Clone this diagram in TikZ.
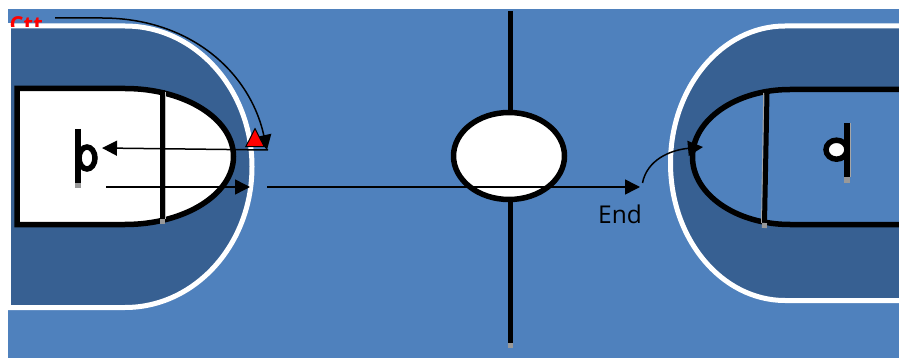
\documentclass[tikz,border=0pt]{standalone}
\usepackage{fontspec}
\setsansfont{Open Sans}
\usetikzlibrary{arrows.meta,shapes.geometric}
\definecolor{court}{HTML}{4F81BD}
\definecolor{zone}{HTML}{376092}
\begin{document}
\begin{tikzpicture}[x=1pt,y=1pt,>={Triangle[length=15pt,width=15pt]},
  zone/.style={draw=white,line width=5pt,fill=zone},
  key/.style={draw=black,line width=5.5pt},
  bar/.style={draw=black,line width=5pt},
  barend/.style={draw=gray!80,line width=5pt},
  ring/.style={draw=black,ellipse,fill=white,inner sep=0pt,line width=5.5pt},
  mv/.style={draw=black,line width=1.5pt,->},
  curv/.style={draw=black,line width=1.5pt,->}]
  \useasboundingbox (0,0) rectangle (899,-358);
  \fill[court] (7.5,-9) rectangle (899,-358);
  % left end
  \path[zone] (7.5,-26)--(125,-26) arc[start angle=90,end angle=-90,x radius=127,y radius=140.75]--(7.5,-307.5);
  \fill[white] (0,-23.5) rectangle (11,-310);
  \begin{scope}
    \clip (0,-15) rectangle (60,-26.7);
    \node[anchor=north west,inner sep=0pt,text=red,font=\sffamily\bfseries\fontsize{22}{22}\selectfont] (ctt) at (9.5,-16.5) {Ctt};
  \end{scope}
  \path[key,fill=white] (17,-88.5)--(125,-88.5) arc[start angle=90,end angle=-90,x radius=108.5,y radius=68]--(17,-224.5)--cycle;
  \draw[draw=gray!50,line width=1pt] (165,-92)--(165,-219);
  \draw[bar] (162.5,-90)--(162.5,-219);
  \draw[barend] (162.5,-219)--(162.5,-223.5);
  \node[ring,minimum width=16pt,minimum height=22pt] (pl) at (87,-158) {};
  \draw[bar,line width=5.8pt] (78,-129)--(78,-183);
  \draw[barend,line width=5.8pt] (78,-183)--(78,-188);
  % right end
  \path[zone] (899,-26)--(785,-26) arc[start angle=90,end angle=270,x radius=114.5,y radius=137.25]--(899,-300.5);
  \path[key,fill=court] (899,-89.5)--(790,-89.5) arc[start angle=90,end angle=270,x radius=97.5,y radius=67.5]--(899,-224.5);
  \draw[draw=gray!70,line width=1.2pt] (763.8,-93)--(761.6,-223);
  \draw[bar] (767,-93)--(764.5,-223);
  \draw[barend] (764.5,-223)--(764.4,-228);
  \node[ring,minimum width=21pt,minimum height=19pt] (pr) at (836.5,-149.7) {};
  \draw[draw=gray!70,line width=1.2pt] (850,-123)--(850,-177);
  \draw[bar,line width=6pt] (846.7,-123)--(846.7,-177);
  \draw[barend,line width=6.5pt] (847,-177)--(847,-183);
  % centre
  \draw[bar] (510,-11)--(510,-343);
  \draw[barend] (510,-343)--(510,-348);
  \node[ring,minimum width=111pt,minimum height=87pt] (c) at (509,-156) {};
  % moves
  \coordinate (a1) at (268,-150);
  \coordinate (a2) at (102,-148);
  \coordinate (b1) at (106,-187);
  \coordinate (b2) at (250,-187);
  \coordinate (m1) at (267,-187);
  \coordinate (m2) at (640,-187);
  \coordinate (s1) at (55,-18);
  \coordinate (s2) at (102,-18);
  \coordinate (s3) at (267,-150);
  \coordinate (e1) at (642.5,-183);
  \coordinate (e2) at (703,-147);
  \draw[mv] (a1)--(a2);
  \draw[mv] (b1)--(b2);
  \draw[mv] (m1)--(m2);
  \draw[curv] (s1)--(s2) .. controls (190,-18) and (250,-72) .. (s3);
  \draw[curv] (e1) .. controls (647,-160) and (670,-150) .. (e2);
  \node[draw=black,line width=1pt,fill=red,isosceles triangle,isosceles triangle apex angle=54,shape border rotate=90,inner sep=0pt,minimum height=18pt,minimum width=16.5pt] (t) at (255,-141) {};
  \node[anchor=base,inner sep=0pt,text=black,font=\sffamily\fontsize{24.5}{26}\selectfont] (e) at (620,-223) {End};
\end{tikzpicture}
\end{document}
